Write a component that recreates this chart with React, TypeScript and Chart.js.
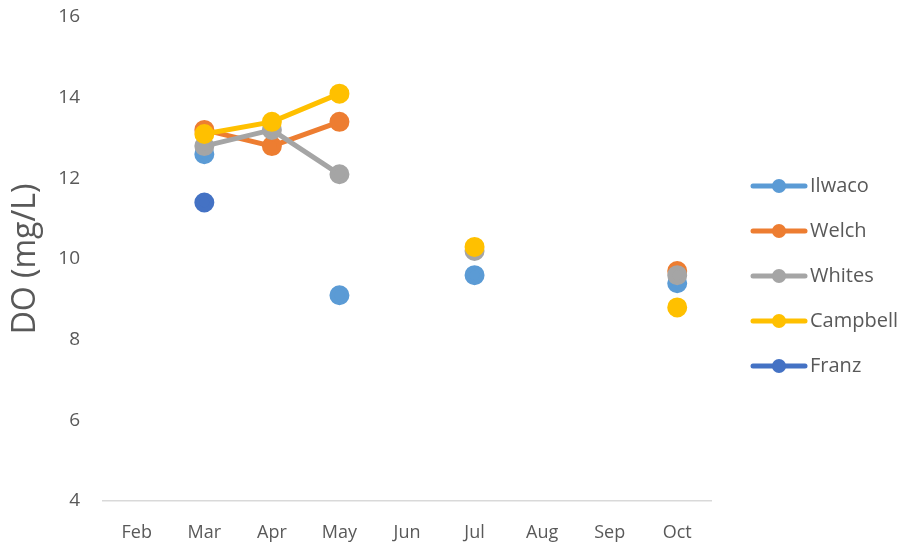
import React, { useEffect, useRef } from "react";
import { Chart, registerables } from "chart.js";

Chart.register(...registerables);

const months = ["Feb", "Mar", "Apr", "May", "Jun", "Jul", "Aug", "Sep", "Oct"];
const seriesNames = ["Ilwaco", "Welch", "Whites", "Campbell", "Franz"];
const seriesColors = ["#5B9BD5", "#ED7D31", "#A5A5A5", "#FFC000", "#4472C4"];
const ilwaco = [null, 12.6, null, 9.1, null, 9.6, null, null, 9.4];
const welch = [null, 13.2, 12.8, 13.4, null, null, null, null, 9.7];
const whites = [null, 12.8, 13.2, 12.1, null, 10.2, null, null, 9.6];
const campbell = [null, 13.1, 13.4, 14.1, null, 10.3, null, null, 8.8];
const franz = [null, 11.4, null, null, null, null, null, null, null];
const seriesValues = [ilwaco, welch, whites, campbell, franz];
const yTicks = [4, 6, 8, 10, 12, 14, 16];
const yTitle = "DO (mg/L)";

const FONT = "'Open Sans', sans-serif";
const TEXT = "#595959";

const legendPlugin = {
  id: "sideLegend",
  afterDraw(chart: any) {
    const ctx = chart.ctx;
    ctx.save();
    chart.data.datasets.forEach((ds: any, i: number) => {
      const y = 186 + i * 45;
      ctx.strokeStyle = ds.borderColor;
      ctx.lineWidth = 5;
      ctx.lineCap = "round";
      ctx.beginPath();
      ctx.moveTo(753, y);
      ctx.lineTo(805, y);
      ctx.stroke();
      ctx.fillStyle = ds.borderColor;
      ctx.beginPath();
      ctx.arc(779, y, 7, 0, Math.PI * 2);
      ctx.fill();
      ctx.fillStyle = TEXT;
      ctx.font = `20px ${FONT}`;
      ctx.textBaseline = "middle";
      ctx.textAlign = "left";
      ctx.fillText(ds.label, 810, y);
    });
    ctx.restore();
  },
};

export default function App() {
  const ref = useRef<HTMLCanvasElement>(null);
  useEffect(() => {
    if (!ref.current) return;
    const chart = new Chart(ref.current, {
      type: "line",
      data: {
        labels: months,
        datasets: seriesNames.map((name, i) => ({
          label: name,
          data: seriesValues[i],
          borderColor: seriesColors[i],
          backgroundColor: seriesColors[i],
          pointBackgroundColor: seriesColors[i],
          pointBorderColor: seriesColors[i],
          borderWidth: 5,
          pointRadius: 7.5,
          pointHoverRadius: 7.5,
          spanGaps: false,
          order: seriesNames.length - i,
        })),
      },
      options: {
        animation: false,
        responsive: false,
        maintainAspectRatio: false,
        layout: { padding: { top: 17, right: 192, bottom: 0, left: 0 } },
        plugins: { legend: { display: false }, tooltip: { enabled: false } },
        scales: {
          x: {
            offset: true,
            grid: { display: false, drawTicks: false },
            border: { display: true, color: "#D9D9D9", width: 1.5 },
            ticks: { color: TEXT, font: { family: FONT, size: 18 }, padding: 21 },
            afterFit: (s: any) => { s.height = 44; },
          },
          y: {
            min: 4,
            max: 16,
            afterBuildTicks: (s: any) => { s.ticks = yTicks.map((v) => ({ value: v })); },
            grid: { display: false, drawTicks: false },
            border: { display: false },
            ticks: { color: TEXT, font: { family: FONT, size: 19 }, padding: 23 },
            title: {
              display: true,
              text: yTitle,
              color: TEXT,
              font: { family: FONT, size: 32 },
              padding: { top: 7, bottom: 0 },
            },
            afterFit: (s: any) => {
              s.width = 103;
              s.paddingTop = 0;
              s.paddingBottom = 0;
            },
          },
        },
      },
      plugins: [legendPlugin],
    });
    return () => chart.destroy();
  }, []);
  return (
    <div style={{ position: "fixed", left: 0, top: 0, width: 903, height: 545, background: "#fff" }}>
      <canvas ref={ref} width={903} height={545} style={{ width: 903, height: 545 }} />
    </div>
  );
}
